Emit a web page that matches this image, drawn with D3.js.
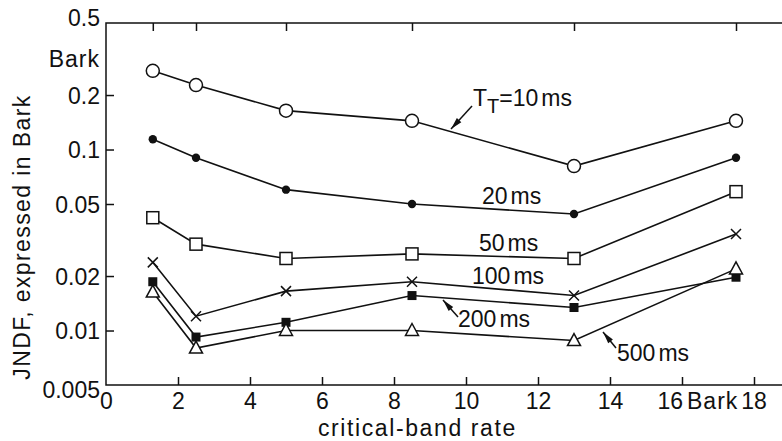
<!DOCTYPE html>
<html>
<head>
<meta charset="utf-8">
<script src="https://cdn.jsdelivr.net/npm/d3@7"></script>
<style>
  html, body { margin: 0; padding: 0; background: #fff; }
  svg { display: block; }
  text { font-family: "Liberation Sans", Arial, sans-serif; fill: #111; }
</style>
</head>
<body>
<script>
// ---- data ----
const bandRate = [1.3, 2.5, 5, 8.5, 13, 17.5];
const jndf10  = [0.272, 0.227, 0.164, 0.144, 0.081, 0.144];
const jndf20  = [0.114, 0.090, 0.060, 0.050, 0.044, 0.090];
const jndf50  = [0.042, 0.030, 0.025, 0.0265, 0.025, 0.0585];
const jndf100 = [0.0238, 0.0120, 0.0165, 0.0186, 0.0156, 0.0341];
const jndf200 = [0.0186, 0.0092, 0.0111, 0.0156, 0.0134, 0.0197];
const jndf500 = [0.0163, 0.0080, 0.0100, 0.0100, 0.0088, 0.0219];
const xTicks = [0, 2, 4, 6, 8, 10, 12, 14, 16, 18];
const yTicks = [0.005, 0.01, 0.02, 0.05, 0.1, 0.2, 0.5];
const yTickLabels = ["0.005", "0.01", "0.02", "0.05", "0.1", "0.2", "0.5"];

const W = 782, H = 441;
const L = 106, R = 782, T = 23, B = 385;

const svg = d3.select("body").append("svg").attr("width", W).attr("height", H);

const x = d3.scaleLinear().domain([0, (R - L) / 36]).range([L, R]);
const y = d3.scaleLog().domain([0.005, 0.5]).range([B, T]);

const ink = "#111";
const fs = 23;

// ---- frame ----
const frame = svg.append("g").attr("stroke", ink).attr("stroke-width", 1.5).attr("fill", "none");
frame.append("path").attr("d", `M${R},${T}H${L}V${B}H${R}`);

// bottom axis (ticks inward)
const xAxis = d3.axisBottom(x).tickValues(xTicks).tickSizeInner(-8).tickSizeOuter(0)
  .tickFormat(d => (d === 16 || d === 18) ? "" : d);
const gx = svg.append("g").attr("transform", `translate(0,${B})`).call(xAxis);
gx.select(".domain").remove();
gx.selectAll(".tick line").attr("stroke", ink).attr("stroke-width", 1.5)
  .filter(d => d === 0).remove();
gx.selectAll(".tick text").attr("font-size", fs).attr("fill", ink)
  .attr("font-family", "Liberation Sans").attr("y", 8).attr("dy", "0.71em");

// special labels near 16 and 18
svg.append("text").attr("x", x(16) + 1).attr("y", B + 8).attr("dy", "0.71em")
  .attr("text-anchor", "end").attr("font-size", fs).text("16");
svg.append("text").attr("x", x(16) + 5).attr("y", B + 8).attr("dy", "0.71em")
  .attr("font-size", fs).attr("letter-spacing", 1).text("Bark");
svg.append("text").attr("x", x(18)).attr("y", B + 8).attr("dy", "0.71em")
  .attr("text-anchor", "middle").attr("font-size", fs).text("18");

// top axis ticks at measured band rates
const xTop = d3.axisTop(x).tickValues(bandRate).tickSizeInner(-8).tickSizeOuter(0).tickFormat("");
const gt = svg.append("g").attr("transform", `translate(0,${T})`).call(xTop);
gt.select(".domain").remove();
gt.selectAll(".tick line").attr("stroke", ink).attr("stroke-width", 1.5);

// left axis
const yAxis = d3.axisLeft(y).tickValues(yTicks).tickSizeInner(-8).tickSizeOuter(0)
  .tickFormat((d, i) => yTickLabels[i]);
const gy = svg.append("g").attr("transform", `translate(${L},0)`).call(yAxis);
gy.select(".domain").remove();
gy.selectAll(".tick line").attr("stroke", ink).attr("stroke-width", 1.5)
  .filter(d => d === 0.005 || d === 0.5).remove();
gy.selectAll(".tick text").attr("font-size", fs).attr("fill", ink)
  .attr("font-family", "Liberation Sans").attr("x", -6)
  .attr("dy", d => d === 0.005 ? "0.55em" : (d === 0.5 ? "0.1em" : "0.35em"));

svg.append("text").attr("x", L - 6).attr("y", 67).attr("text-anchor", "end")
  .attr("font-size", fs).attr("letter-spacing", 1).text("Bark");

// axis titles
svg.append("text").attr("x", 318).attr("y", 436).attr("font-size", fs)
  .attr("letter-spacing", 1.6).text("critical-band rate");
svg.append("text").attr("transform", `translate(30,237) rotate(-90)`)
  .attr("text-anchor", "middle").attr("font-size", fs).attr("letter-spacing", 1.4)
  .text("JNDF, expressed in Bark");

// ---- series ----
const series = [
  { name: "10", vals: jndf10, marker: "circleOpen" },
  { name: "20", vals: jndf20, marker: "circleFilled" },
  { name: "50", vals: jndf50, marker: "squareOpen" },
  { name: "100", vals: jndf100, marker: "cross" },
  { name: "200", vals: jndf200, marker: "squareFilled" },
  { name: "500", vals: jndf500, marker: "triangleOpen" }
];

const line = d3.line().x(d => x(d[0])).y(d => y(d[1]));
const gLines = svg.append("g");
const gMarks = svg.append("g");

series.forEach(s => {
  const pts = bandRate.map((b, i) => [b, s.vals[i]]);
  gLines.append("path").attr("d", line(pts)).attr("fill", "none")
    .attr("stroke", ink).attr("stroke-width", 1.6);
  pts.forEach(p => {
    const cx = x(p[0]), cy = y(p[1]);
    const g = gMarks.append("g").attr("transform", `translate(${cx},${cy})`);
    switch (s.marker) {
      case "circleOpen":
        g.append("circle").attr("r", 6.5).attr("fill", "#fff").attr("stroke", ink).attr("stroke-width", 1.5); break;
      case "circleFilled":
        g.append("circle").attr("r", 4.2).attr("fill", ink); break;
      case "squareOpen":
        g.append("rect").attr("x", -6).attr("y", -6).attr("width", 12).attr("height", 12)
          .attr("fill", "#fff").attr("stroke", ink).attr("stroke-width", 1.5); break;
      case "squareFilled":
        g.append("rect").attr("x", -4.5).attr("y", -4.5).attr("width", 9).attr("height", 9).attr("fill", ink); break;
      case "cross":
        g.append("path").attr("d", "M-5,-5L5,5M-5,5L5,-5").attr("stroke", ink).attr("stroke-width", 1.5); break;
      case "triangleOpen":
        g.append("path").attr("d", "M0,-7L6.5,5L-6.5,5Z").attr("fill", "#fff")
          .attr("stroke", ink).attr("stroke-width", 1.5); break;
    }
  });
});

// ---- annotations ----
function arrow(x1, y1, x2, y2) {
  svg.append("line").attr("x1", x1).attr("y1", y1).attr("x2", x2).attr("y2", y2)
    .attr("stroke", ink).attr("stroke-width", 1.5);
  const a = Math.atan2(y2 - y1, x2 - x1), len = 12, hw = 3;
  const bx = x2 - len * Math.cos(a), by = y2 - len * Math.sin(a);
  const px = -Math.sin(a) * hw, py = Math.cos(a) * hw;
  svg.append("path").attr("d", `M${x2},${y2}L${bx + px},${by + py}L${bx - px},${by - py}Z`).attr("fill", ink);
}

const lab = svg.append("g").attr("font-size", fs);
const t10 = lab.append("text").attr("x", 473).attr("y", 106);
t10.append("tspan").text("T");
t10.append("tspan").attr("dy", 7).attr("font-size", 20).text("T");
t10.append("tspan").attr("dy", -7).text("=10");
t10.append("tspan").attr("dx", 3).text("ms");
arrow(472, 106, 451, 129);

function msLabel(px, py, num) {
  const t = lab.append("text").attr("x", px).attr("y", py);
  t.append("tspan").text(num);
  t.append("tspan").attr("dx", 3).text("ms");
}
msLabel(482, 204, "20");
msLabel(479, 251, "50");
msLabel(472, 284, "100");
msLabel(458, 327, "200");
arrow(458, 317, 443, 300);
msLabel(617, 361, "500");
arrow(616, 348, 603, 332);
</script>
</body>
</html>
